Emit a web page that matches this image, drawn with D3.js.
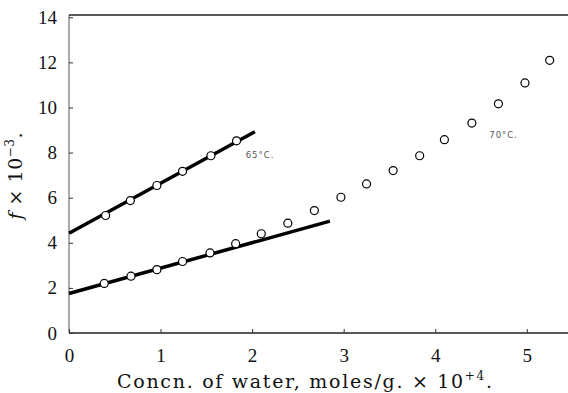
<!DOCTYPE html>
<html><head><meta charset="utf-8">
<script src="https://cdn.jsdelivr.net/npm/d3@7"></script>
<style>body{margin:0;background:#fff;} svg{display:block;}</style>
</head><body>
<svg id="chart" width="568" height="393"></svg>
<script>
// Data
const xTicks = [0, 1, 2, 3, 4, 5];
const yTicks = [0, 2, 4, 6, 8, 10, 12, 14];
const upperX = [0.40, 0.67, 0.96, 1.24, 1.55, 1.83];
const upperY = [5.21, 5.87, 6.54, 7.17, 7.86, 8.52];
const upperLineX = [0, 2.03];
const upperLineY = [4.42, 8.92];
const lowerX = [0.385, 0.677, 0.96, 1.24, 1.54, 1.82, 2.10, 2.39, 2.68, 2.97, 3.25, 3.54, 3.83, 4.10, 4.40, 4.69, 4.98, 5.25];
const lowerY = [2.20, 2.52, 2.81, 3.17, 3.55, 3.96, 4.40, 4.87, 5.43, 6.02, 6.61, 7.20, 7.86, 8.57, 9.31, 10.16, 11.09, 12.09];
const lowerLineX = [0, 2.85];
const lowerLineY = [1.75, 4.96];
const labels = [{text: "65°C.", x: 1.93, y: 7.75}, {text: "70°C.", x: 4.59, y: 8.65}];

const svg = d3.select("#chart");
const x = d3.scaleLinear().domain([0, 5.45]).range([69, 568]);
const y = d3.scaleLinear().domain([0, 14.1]).range([333, 15]);
const tickFont = "Liberation Serif";
const titleFont = "DejaVu Serif";

// frame: left, top, bottom
const g = svg.append("g");
g.append("line").attr("x1", x(0)).attr("x2", x(0)).attr("y1", y(0)).attr("y2", y(14.1)).attr("stroke", "#555").attr("stroke-width", 1);
g.append("line").attr("x1", x(0)).attr("x2", x(5.45)).attr("y1", y(14.1)).attr("y2", y(14.1)).attr("stroke", "#222").attr("stroke-width", 1.3);
g.append("line").attr("x1", x(0)).attr("x2", x(5.45)).attr("y1", y(0)).attr("y2", y(0)).attr("stroke", "#222").attr("stroke-width", 1.3);

// axes
const yAxis = d3.axisLeft(y).tickValues(yTicks).tickSize(-4).tickPadding(12).tickFormat(d3.format("d"));
const ya = svg.append("g").attr("transform", `translate(${x(0)},0)`).call(yAxis)
  .attr("font-family", tickFont).attr("font-size", 19);
ya.select(".domain").remove();
ya.selectAll(".tick line").attr("stroke", "#333");
ya.selectAll(".tick text").attr("fill", "#111");

const xAxis = d3.axisBottom(x).tickValues(xTicks).tickSize(-4).tickPadding(16).tickFormat(d3.format("d"));
const xa = svg.append("g").attr("transform", `translate(0,${y(0)})`).call(xAxis)
  .attr("font-family", tickFont).attr("font-size", 19);
xa.select(".domain").remove();
xa.selectAll(".tick line").attr("stroke", "#333");
xa.selectAll(".tick text").attr("fill", "#111");

// lines
const line = d3.line().x(d => x(d[0])).y(d => y(d[1]));
svg.append("path").datum(d3.zip(upperLineX, upperLineY)).attr("d", line).attr("fill", "none").attr("stroke", "#000").attr("stroke-width", 3.5);
svg.append("path").datum(d3.zip(lowerLineX, lowerLineY)).attr("d", line).attr("fill", "none").attr("stroke", "#000").attr("stroke-width", 3.5);

// points
const pts = d3.zip(upperX, upperY).concat(d3.zip(lowerX, lowerY));
svg.selectAll("circle.pt").data(pts).enter().append("circle").attr("class", "pt")
  .attr("cx", d => x(d[0])).attr("cy", d => y(d[1])).attr("r", 4)
  .attr("fill", "#fff").attr("stroke", "#000").attr("stroke-width", 1.2);

// curve labels
svg.selectAll("text.lab").data(labels).enter().append("text").attr("class", "lab")
  .attr("x", d => x(d.x)).attr("y", d => y(d.y))
  .attr("font-family", "DejaVu Sans").attr("font-size", 8.5)
  .attr("letter-spacing", 1).attr("fill", "#555")
  .text(d => d.text);

// axis titles
const xt = svg.append("text").attr("x", 117).attr("y", 388).attr("text-anchor", "start")
  .attr("textLength", 375).attr("lengthAdjust", "spacing")
  .attr("font-family", titleFont).attr("font-size", 19).attr("fill", "#111");
xt.append("tspan").text("Concn. of water, moles/g. × 10");
xt.append("tspan").attr("dy", -8).attr("font-size", 12).text("+4");
xt.append("tspan").attr("dy", 8).text(".");

const yt = svg.append("text").attr("transform", "translate(22,176) rotate(-90)").attr("text-anchor", "middle")
  .attr("textLength", 87).attr("lengthAdjust", "spacing")
  .attr("font-family", titleFont).attr("font-size", 19).attr("fill", "#111");
yt.append("tspan").attr("font-style", "italic").text("f");
yt.append("tspan").text(" × 10");
yt.append("tspan").attr("dy", -8).attr("font-size", 12).text("−3");
yt.append("tspan").attr("dy", 8).text(".");
</script>
</body></html>
